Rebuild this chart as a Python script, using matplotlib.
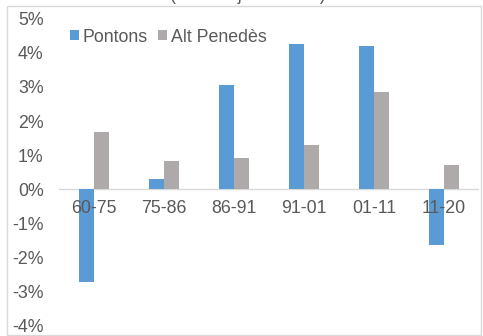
import numpy as np
import matplotlib
matplotlib.use("Agg")
import matplotlib.pyplot as plt
from matplotlib.patches import Rectangle
from matplotlib.ticker import FuncFormatter

plt.rcParams['font.family'] = ['Liberation Sans', 'DejaVu Sans']

periodes = ["60-75", "75-86", "86-91", "91-01", "01-11", "11-20"]
pontons = [-2.71, 0.29, 3.04, 4.25, 4.19, -1.62]
alt_penedes = [1.68, 0.83, 0.92, 1.30, 2.86, 0.72]
series = ["Pontons", "Alt Penedès"]
titol = "(taxa mitjana anual)"

blau = "#5B9BD5"
gris = "#AEAAAA"
text_gris = "#595959"
mida = 12.8

W, H = 483, 336
fig = plt.figure(figsize=(W / 100, H / 100), dpi=100)
ax = fig.add_axes([59 / W, 1 - 326 / H, 420 / W, (326 - 18.5) / H])

x = np.arange(len(periodes))
amplada = 0.21
ax.bar(x - amplada / 2, pontons, amplada, color=blau, label=series[0], zorder=3)
ax.bar(x + amplada / 2, alt_penedes, amplada, color=gris, label=series[1], zorder=3)

ax.set_xlim(-0.5, len(periodes) - 0.5)
ax.set_ylim(-4, 5)
ax.axhline(0, color="#D9D9D9", lw=1, zorder=2)

for s in ax.spines.values():
    s.set_visible(False)

ax.set_xticks([])
ax.set_yticks(range(-4, 6))
ax.yaxis.set_major_formatter(FuncFormatter(lambda v, p: f"{v:.0f}%"))
ax.tick_params(axis="y", length=0, pad=11, labelsize=mida, labelcolor=text_gris)

for i, lab in enumerate(periodes):
    ax.annotate(lab, (i, 0), xytext=(0, -8), textcoords="offset points",
                ha="center", va="top", fontsize=mida, color=text_gris)

fig.legend(loc="center left", bbox_to_anchor=(70 / W, 1 - 37 / H), ncol=2,
           frameon=False, fontsize=mida, handlelength=0.5, handleheight=0.5,
           handletextpad=0.2, columnspacing=0.6, borderpad=0, borderaxespad=0,
           labelcolor=text_gris)

# marc del gràfic
fig.add_artist(Rectangle((7 / W, 1 / H), (481 - 7) / W, (330 - 1) / H,
                         transform=fig.transFigure, fill=False,
                         edgecolor="#D9D9D9", lw=1))

# títol tallat per dalt
fig.text(248 / W, 1.0, titol, ha="center", va="baseline", fontsize=mida, color=text_gris)

fig.savefig("out.png", dpi=100)
